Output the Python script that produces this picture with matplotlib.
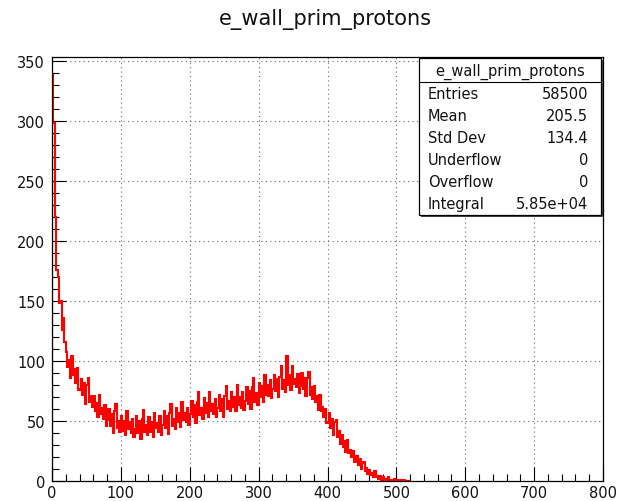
import numpy as np
import matplotlib
matplotlib.use("Agg")
import matplotlib.pyplot as plt
from matplotlib.ticker import MultipleLocator
from matplotlib.patches import Rectangle

# ---- data (bin width 2 starting at 0) ----
title = "e_wall_prim_protons"
bin_width = 2
x_start = 0
counts = [
    338, 298, 220, 176, 170, 148, 150, 126, 136, 116,
    107, 95, 101, 86, 104, 88, 93, 82, 94, 76,
    77, 85, 72, 82, 64, 80, 86, 66, 71, 62,
    71, 58, 65, 53, 72, 56, 61, 52, 63, 46,
    51, 60, 46, 56, 40, 58, 64, 44, 50, 41,
    54, 42, 50, 38, 58, 43, 49, 40, 52, 37,
    43, 54, 40, 50, 35, 52, 59, 41, 47, 38,
    53, 41, 49, 37, 57, 44, 48, 41, 54, 38,
    47, 58, 44, 54, 39, 57, 64, 46, 52, 43,
    61, 49, 57, 45, 66, 51, 57, 49, 61, 47,
    56, 67, 53, 63, 48, 66, 74, 55, 61, 52,
    69, 57, 65, 53, 74, 58, 64, 56, 68, 53,
    61, 72, 58, 68, 53, 71, 79, 60, 67, 58,
    74, 62, 70, 58, 80, 63, 70, 61, 74, 59,
    67, 78, 64, 75, 60, 78, 86, 66, 73, 63,
    82, 70, 79, 66, 88, 72, 80, 71, 84, 69,
    77, 88, 75, 85, 70, 87, 96, 77, 84, 74,
    104, 80, 88, 76, 96, 81, 85, 78, 89, 73,
    79, 90, 77, 86, 71, 86, 91, 72, 78, 68,
    79, 66, 71, 59, 72, 58, 62, 53, 60, 48,
    49, 57, 44, 52, 38, 49, 51, 37, 42, 31,
    38, 28, 33, 24, 34, 23, 26, 20, 25, 16,
    16, 21, 13, 18, 10, 15, 16, 8, 11, 6,
    9, 5, 7, 3, 8, 3, 4, 2, 4, 1,
    3, 1, 2, 0, 3, 1, 1, 0, 2, 0,
    1, 0, 1, 0, 0, 1, 0, 0, 0, 0,
]
stat_labels = ["Entries", "Mean", "Std Dev", "Underflow", "Overflow", "Integral"]
stat_values = ["58500", "205.5", "134.4", "0", "0", "5.85e+04"]

# ---- figure ----
plt.rcParams['font.family'] = ['DejaVu Sans']
W, H = 618, 502
fig = plt.figure(figsize=(W / 100, H / 100), dpi=100)
fig.patch.set_facecolor('white')

ax_l, ax_r, ax_b, ax_t = 52, 603, 482, 58
ax = fig.add_axes([ax_l / W, 1 - ax_b / H, (ax_r - ax_l) / W, (ax_b - ax_t) / H])

edges = x_start + bin_width * np.arange(len(counts) + 1)
ax.stairs(counts, edges, color='#ff0000', lw=1.5, zorder=2)

ax.set_xlim(0, 800)
ax.set_ylim(0, 353)

ax.xaxis.set_major_locator(MultipleLocator(100))
ax.xaxis.set_minor_locator(MultipleLocator(20))
ax.yaxis.set_major_locator(MultipleLocator(50))
ax.yaxis.set_minor_locator(MultipleLocator(10))

ax.grid(True, which='major', color='#666666', linestyle=(0, (1, 3)), lw=0.8, zorder=1)
ax.tick_params(which='both', direction='in', top=False, right=False,
               color='black', width=0.8, labelsize=10.5, labelcolor='#111111')
ax.tick_params(which='major', length=10)
ax.tick_params(which='minor', length=5)
ax.tick_params(axis='x', pad=3)
ax.tick_params(axis='y', pad=5)
for s in ax.spines.values():
    s.set_linewidth(0.9)
    s.set_color('black')

# title
fig.text(325 / W, 1 - 20 / H, title, ha='center', va='center', fontsize=15, color='#111111')

# stats box (pixel coordinates -> figure fraction)
def fx(px):
    return px / W

def fy(py):
    return 1 - py / H

bx0, bx1, by0, by1 = 419, 601, 59, 216
shadow = Rectangle((fx(bx0 + 2), fy(by1 + 2)), fx(bx1 - bx0), (by1 - by0) / H,
                   transform=fig.transFigure, facecolor='#444444', edgecolor='none', zorder=5)
box = Rectangle((fx(bx0), fy(by1)), fx(bx1 - bx0), (by1 - by0) / H,
                transform=fig.transFigure, facecolor='white', edgecolor='black', lw=0.9, zorder=6)
fig.add_artist(shadow)
fig.add_artist(box)
header_bottom = 83
fig.add_artist(plt.Line2D([fx(bx0), fx(bx1)], [fy(header_bottom), fy(header_bottom)],
                          transform=fig.transFigure, color='black', lw=0.8, zorder=7))
fig.text(fx((bx0 + bx1) / 2), fy((by0 + header_bottom) / 2 + 1), title, ha='center', va='center',
         fontsize=10.5, color='#111111', zorder=8)
row_h = (by1 - header_bottom) / len(stat_labels)
for i, (lab, val) in enumerate(zip(stat_labels, stat_values)):
    yc = header_bottom + row_h * (i + 0.5)
    fig.text(fx(428), fy(yc), lab, ha='left', va='center', fontsize=10.5, color='#111111', zorder=8)
    fig.text(fx(588), fy(yc), val, ha='right', va='center', fontsize=10.5, color='#111111', zorder=8)

fig.savefig('out.png', dpi=100, facecolor='white')
